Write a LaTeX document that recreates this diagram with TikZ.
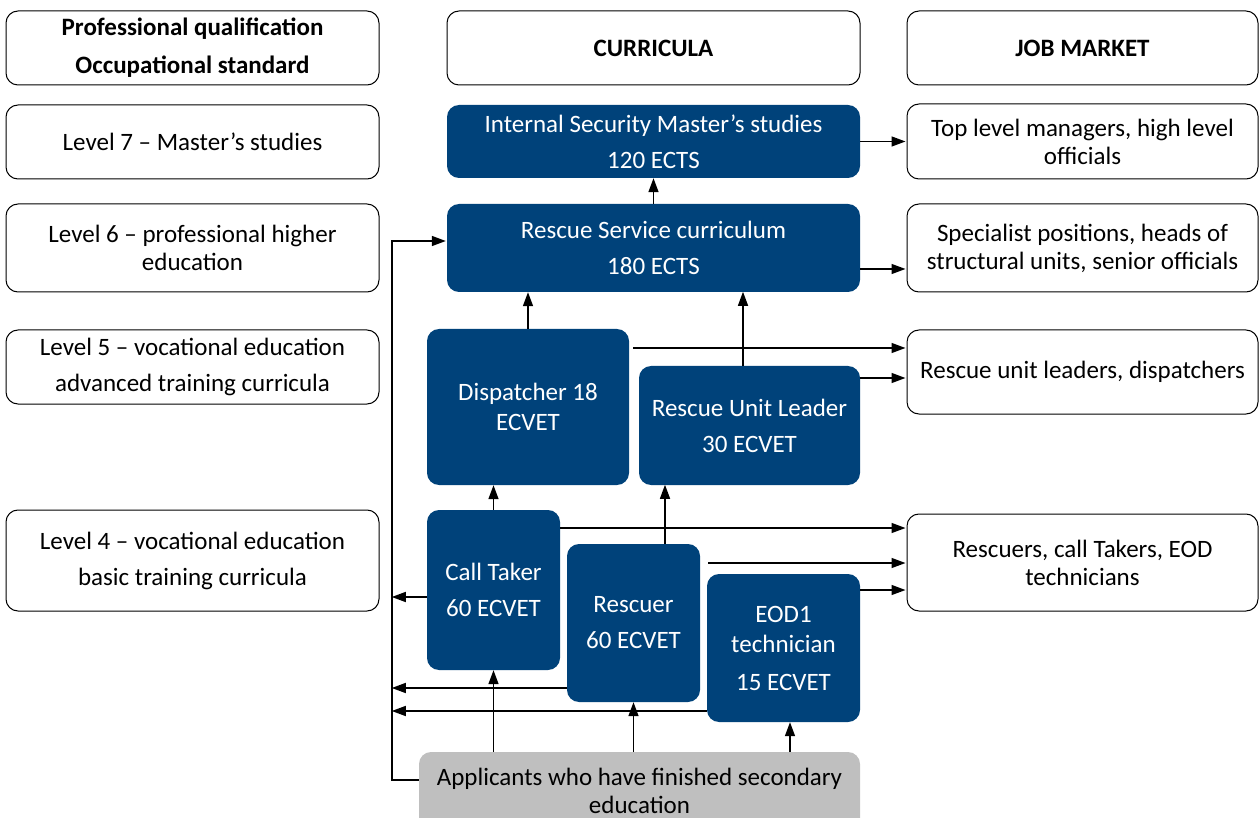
\documentclass[tikz,border=0pt]{standalone}
\usepackage{fontspec}
\setmainfont{Carlito}
\usetikzlibrary{arrows.meta,calc}
\definecolor{navy}{RGB}{0,66,122}
\definecolor{greybox}{RGB}{191,191,191}

\begin{document}
\begin{tikzpicture}[
  x=1pt, y=-1pt,
  font=\fontsize{25}{36}\selectfont,
  frame/.style={rectangle, draw, line width=1pt, rounded corners=12pt, align=center, inner sep=0pt},
  course/.style={rectangle, fill=navy, text=white, rounded corners=12pt, align=center, inner sep=0pt},
  entry/.style={rectangle, fill=greybox, rounded corners=12pt, align=center, inner sep=0pt},
  tight/.style={font=\fontsize{25}{28}\selectfont},
  head/.style={font=\fontsize{25}{38}\selectfont\bfseries},
  arr/.style={-{Triangle[length=14pt,width=10pt]}, line width=1.5pt}
]
\clip (0,0) rectangle (1259,818);

% column headers
\node[frame, head, minimum width=373, minimum height=74] (hqual) at (192.5,48) {Professional qualification\\Occupational standard};
\node[frame, head, minimum width=413, minimum height=74] (hcurr) at (653.5,48) {CURRICULA};
\node[frame, head, minimum width=351, minimum height=74] (hjob) at (1082.5,48) {JOB MARKET};

% qualification levels
\node[frame, minimum width=373, minimum height=74] (lvsev) at (192.5,142) {Level 7 -- Master’s studies};
\node[frame, tight, minimum width=373, minimum height=88] (lvsix) at (192.5,248) {Level 6 -- professional higher\\education};
\node[frame, minimum width=373, minimum height=74] (lvfive) at (192.5,367) {Level 5 -- vocational education\\advanced training curricula};
\node[frame, minimum width=373, minimum height=101] (lvfour) at (192.5,560.5) {Level 4 -- vocational education\\basic training curricula};

% curricula
\node[course, minimum width=413, minimum height=73] (master) at (653.5,141.5) {Internal Security Master’s studies\\120 ECTS};
\node[course, minimum width=413, minimum height=88] (rescserv) at (653.5,248) {Rescue Service curriculum\\180 ECTS};
\node[course, minimum width=202, minimum height=156, font=\fontsize{25}{30}\selectfont] (disp) at (528,407) {Dispatcher 18\\ECVET};
\node[course, minimum width=221, minimum height=119] (leader) at (749.5,425.5) {Rescue Unit Leader\\30 ECVET};
\node[course, minimum width=133, minimum height=160] (caller) at (493.5,590) {Call Taker\\60 ECVET};
\node[course, minimum width=133, minimum height=158] (rescuer) at (633.5,623) {Rescuer\\60 ECVET};
\node[course, minimum width=153, minimum height=148, font=\fontsize{25}{30}\selectfont] (eod) at (783.5,648) {EOD1\\technician\\[8pt]15 ECVET};
\node[entry, tight, minimum width=441, minimum height=78] (appl) at (639.5,791) {Applicants who have finished secondary\\education};

% job market
\node[frame, tight, minimum width=351, minimum height=75] (jtop) at (1082.5,141.5) {Top level managers, high level\\officials};
\node[frame, tight, minimum width=351, minimum height=88] (jspec) at (1082.5,248) {Specialist positions, heads of\\structural units, senior officials};
\node[frame, minimum width=351, minimum height=84] (jlead) at (1082.5,372) {Rescue unit leaders, dispatchers};
\node[frame, tight, minimum width=351, minimum height=97] (jresc) at (1082.5,562.5) {Rescuers, call Takers, EOD\\technicians};

% to the job market
\draw[arr] (master.east) -- ($(jtop.west)+(-1,0)$);
\draw[arr] ($(rescserv.east)+(0,21)$) -- ($(jspec.west)+(-1,21)$);
\draw[arr] ($(disp.east)+(4,-59)$) -- ($(jlead.west)+(-1,-24)$);
\draw[arr] ($(leader.east)+(0,-47.5)$) -- ($(jlead.west)+(-1,6)$);
\draw[arr] ($(caller.east)+(0,-62)$) -- ($(jresc.west)+(-1,-34.5)$);
\draw[arr] ($(rescuer.east)+(8,-60)$) -- ($(jresc.west)+(-1,0.5)$);
\draw[arr] ($(eod.east)+(0,-58)$) -- ($(jresc.west)+(-1,27.5)$);

% between curricula
\draw[arr] (rescserv.north) -- (master.south);
\draw[arr] (disp.north) -- (disp.north |- rescserv.south);
\draw[arr] ($(leader.north)+(-6.5,0)$) -- ++(0,-74);
\draw[arr] (caller.north) -- (caller.north |- disp.south);
\draw[arr] ($(rescuer.north)+(31.5,0)$) -- ++(0,-59);

% back to the qualification
\draw[arr] ($(caller.west)+(0,7)$) -- ++(-35,0);
\draw[arr] ($(rescuer.west)+(0,65)$) -- ++(-175,0);
\draw[arr] ($(eod.west)+(0,63)$) -- ++(-315,0);

% from the applicants
\draw[arr] ($(appl.west)+(0,-11)$) -- ++(-27,0) |- ($(rescserv.west)+(-1,-7)$);
\draw[arr] (appl.north -| caller.south) -- (caller.south);
\draw[arr] (appl.north -| rescuer.south) -- (rescuer.south);
\draw[arr] ($(eod.south)+(6.5,30)$) -- ($(eod.south)+(6.5,0)$);
\end{tikzpicture}
\end{document}
